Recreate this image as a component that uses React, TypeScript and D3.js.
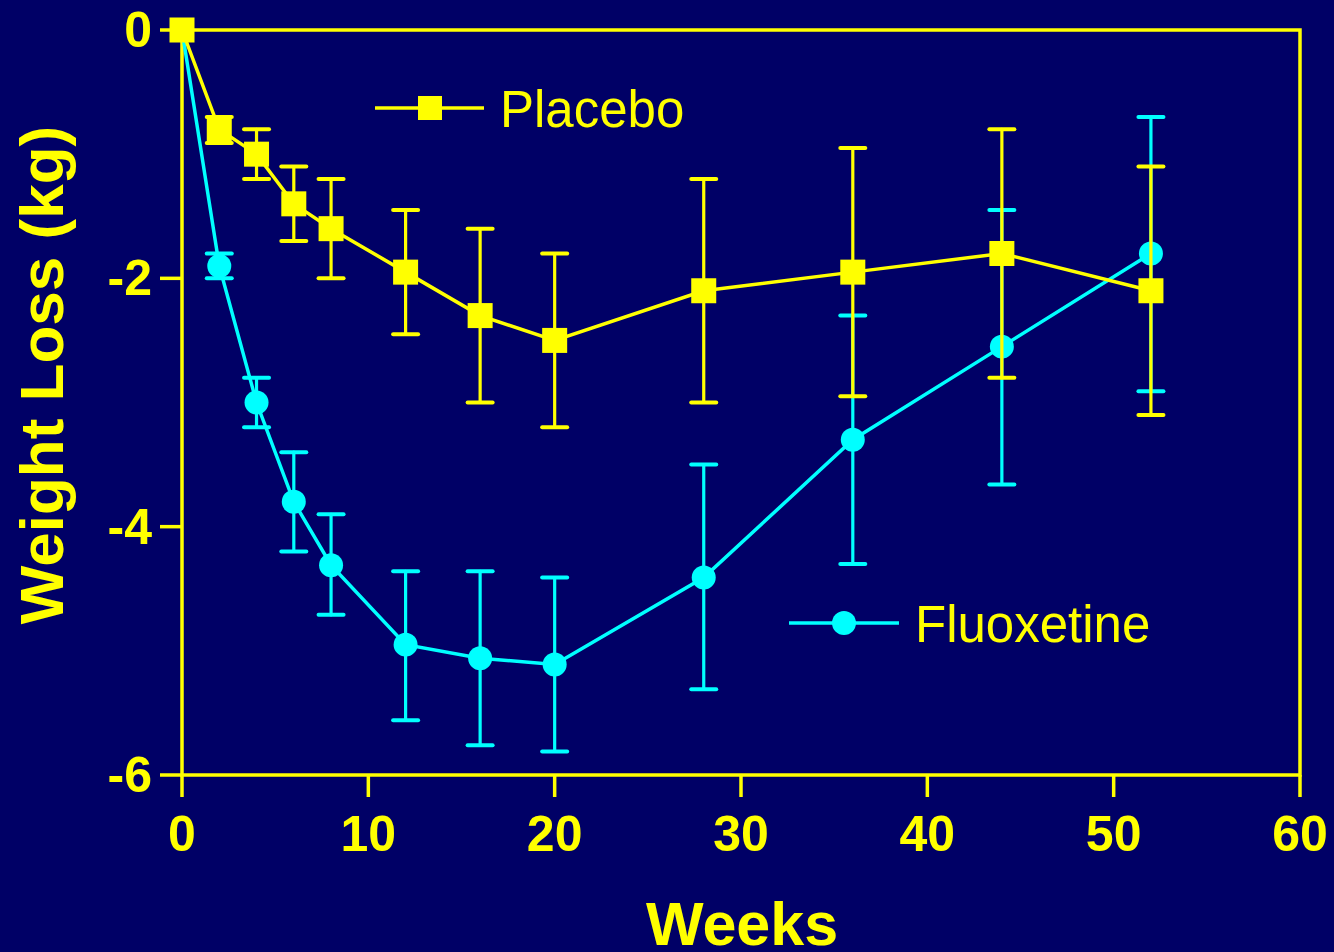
import React from "react";
import * as d3 from "d3";

const weeks = [0, 2, 4, 6, 8, 12, 16, 20, 28, 36, 44, 52];
const placeboMean = [0, -0.8, -1.0, -1.4, -1.6, -1.95, -2.3, -2.5, -2.1, -1.95, -1.8, -2.1];
const placeboUpper = [null, -0.7, -0.8, -1.1, -1.2, -1.45, -1.6, -1.8, -1.2, -0.95, -0.8, -1.1];
const placeboLower = [null, -0.91, -1.2, -1.7, -2.0, -2.45, -3.0, -3.2, -3.0, -2.95, -2.8, -3.1];
const fluoxMean = [0, -1.9, -3.0, -3.8, -4.31, -4.95, -5.06, -5.11, -4.41, -3.3, -2.55, -1.8];
const fluoxUpper = [null, -1.8, -2.8, -3.4, -3.9, -4.36, -4.36, -4.41, -3.5, -2.3, -1.45, -0.7];
const fluoxLower = [null, -2.0, -3.2, -4.2, -4.71, -5.56, -5.76, -5.81, -5.31, -4.3, -3.66, -2.91];
const xTicks = [0, 10, 20, 30, 40, 50, 60];
const yTicks = [0, -2, -4, -6];

const BG = "#000066";
const YEL = "#FFFF00";
const CYAN = "#00FFFF";
const FONT = "'Liberation Sans', Arial, Helvetica, sans-serif";

export default function App() {
  const W = 1334, H = 952;
  const x = d3.scaleLinear().domain([0, 60]).range([182, 1300]);
  const y = d3.scaleLinear().domain([0, -6]).range([30, 775]);
  const line = d3.line<number>().x((_, i) => x(weeks[i])).y((d) => y(d));

  const errBars = (lo: (number | null)[], hi: (number | null)[], color: string, key: string) =>
    weeks.map((w, i) => {
      const l = lo[i], h = hi[i];
      if (l == null || h == null) return null;
      const cx = x(w);
      return (
        <g key={key + i} stroke={color} strokeLinecap="round">
          <line x1={cx} x2={cx} y1={y(h)} y2={y(l)} strokeWidth={3.2} />
          <line x1={cx - 12.5} x2={cx + 12.5} y1={y(h)} y2={y(h)} strokeWidth={4} />
          <line x1={cx - 12.5} x2={cx + 12.5} y1={y(l)} y2={y(l)} strokeWidth={4} />
        </g>
      );
    });

  return (
    <svg width={W} height={H} style={{ position: "fixed", left: 0, top: 0, display: "block" }}>
      <rect width={W} height={H} fill={BG} />
      {/* frame */}
      <rect x={x(0)} y={y(0)} width={x(60) - x(0)} height={y(-6) - y(0)} fill="none" stroke={YEL} strokeWidth={3.5} />
      {/* y ticks */}
      {yTicks.map((t) => (
        <g key={"yt" + t}>
          <line x1={160} x2={x(0)} y1={y(t)} y2={y(t)} stroke={YEL} strokeWidth={3.5} />
          <text x={152} y={y(t)} dy="0.34em" textAnchor="end" fill={YEL} fontFamily={FONT} fontWeight="bold" fontSize={50}>
            {t === 0 ? "0" : "-" + Math.abs(t)}
          </text>
        </g>
      ))}
      {/* x ticks */}
      {xTicks.map((t) => (
        <g key={"xt" + t}>
          <line x1={x(t)} x2={x(t)} y1={y(-6)} y2={797} stroke={YEL} strokeWidth={3.5} />
          <text x={x(t)} y={851} textAnchor="middle" fill={YEL} fontFamily={FONT} fontWeight="bold" fontSize={50}>
            {t}
          </text>
        </g>
      ))}
      <text x={742} y={945} textAnchor="middle" fill={YEL} fontFamily={FONT} fontWeight="bold" fontSize={61}>
        Weeks
      </text>
      <text transform="translate(63,375) rotate(-90)" textAnchor="middle" fill={YEL} fontFamily={FONT} fontWeight="bold" fontSize={62}>
        Weight Loss (kg)
      </text>

      {/* Fluoxetine */}
      {errBars(fluoxLower, fluoxUpper, CYAN, "f")}
      <path d={line(fluoxMean) || ""} fill="none" stroke={CYAN} strokeWidth={3.5} />
      {fluoxMean.map((v, i) => (
        <circle key={"fc" + i} cx={x(weeks[i])} cy={y(v)} r={12} fill={CYAN} />
      ))}

      {/* Placebo */}
      {errBars(placeboLower, placeboUpper, YEL, "p")}
      <path d={line(placeboMean) || ""} fill="none" stroke={YEL} strokeWidth={3.5} />
      {placeboMean.map((v, i) => (
        <rect key={"pr" + i} x={x(weeks[i]) - 12.5} y={y(v) - 12.5} width={25} height={25} fill={YEL} />
      ))}

      {/* legends */}
      <line x1={375} x2={484} y1={108} y2={108} stroke={YEL} strokeWidth={3.5} />
      <rect x={430 - 12} y={108 - 12} width={24} height={24} fill={YEL} />
      <text x={500} y={127} fill={YEL} fontFamily={FONT} fontSize={51}>Placebo</text>

      <line x1={789} x2={899} y1={623} y2={623} stroke={CYAN} strokeWidth={3.5} />
      <circle cx={844} cy={623} r={12} fill={CYAN} />
      <text x={915} y={642} fill={YEL} fontFamily={FONT} fontSize={51}>Fluoxetine</text>
    </svg>
  );
}
